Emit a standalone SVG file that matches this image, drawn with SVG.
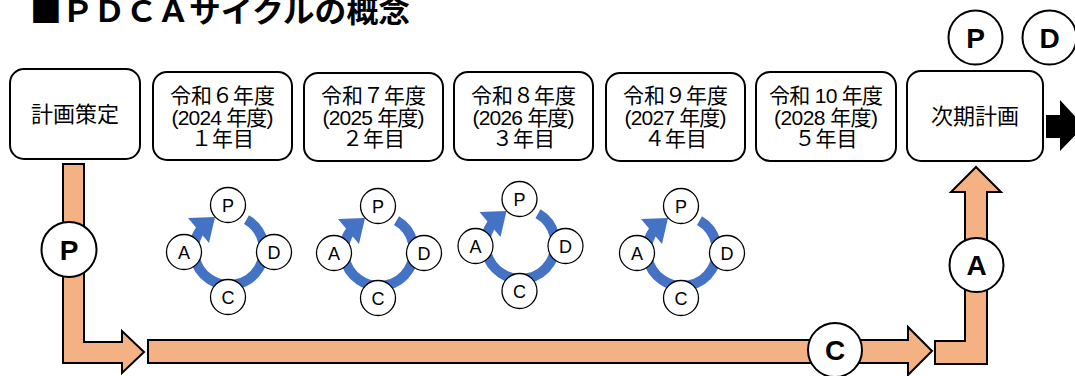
<svg xmlns="http://www.w3.org/2000/svg" width="1075" height="376" viewBox="0 0 1075 376">
<style>
.box{fill:#fff;stroke:#000;stroke-width:2}
.jp{font-family:"Liberation Sans","Noto Sans CJK JP",sans-serif;font-size:21px;fill:#000;text-anchor:middle}
.orange{fill:#F4B183;stroke:#000;stroke-width:2;stroke-linejoin:miter}
.big{fill:#fff;stroke:#000;stroke-width:2}
.bigt{font-family:"Liberation Sans",Arial,sans-serif;font-weight:bold;font-size:28px;text-anchor:middle;fill:#000}
.sm{fill:#fff;stroke:#000;stroke-width:1.3}
.smt{font-family:"Liberation Sans",Arial,sans-serif;font-size:18px;text-anchor:middle;fill:#000}
.ring{fill:none;stroke:#4472C4;stroke-width:10}
.head{fill:#4472C4}
</style>

<g id="title">
<text x="30" y="22" textLength="380" lengthAdjust="spacingAndGlyphs" style="font-family:'Noto Sans CJK JP',sans-serif;font-weight:bold;font-size:30px">■ＰＤＣＡサイクルの概念</text>
</g>

<g id="connectors">
<path class="orange" d="M63,164 H84 V342 H122 V331 L144,352 L122,373 V363 H63 Z"/>
<path class="orange" d="M148,340 H908 V327 L932,351 L908,375 V363 H148 Z"/>
<path class="orange" d="M935,341 H965 V192 H951 L976,167 L1001,192 H987 V364 H935 Z"/>
<path d="M1046,115 H1060 V100 L1084,126 L1060,151 V138 H1046 Z" fill="#000"/>
</g>

<g id="box-plan">
<rect class="box" x="10" y="69" width="130" height="90" rx="14"/>
<text class="jp" x="75" y="122" style="font-size:22px">計画策定</text>
</g>
<g id="box-r6">
<rect class="box" x="153" y="72" width="139" height="88" rx="14"/>
<text class="jp" x="222.5" y="103">令和６年度</text>
<text class="jp" x="222.5" y="125" textLength="102">(2024 年度)</text>
<text class="jp" x="222.5" y="146">１年目</text>
</g>
<g id="box-r7">
<rect class="box" x="304" y="73" width="139" height="88" rx="14"/>
<text class="jp" x="373.5" y="103">令和７年度</text>
<text class="jp" x="373.5" y="125" textLength="102">(2025 年度)</text>
<text class="jp" x="373.5" y="146">２年目</text>
</g>
<g id="box-r8">
<rect class="box" x="454" y="72" width="139" height="88" rx="14"/>
<text class="jp" x="523.5" y="103">令和８年度</text>
<text class="jp" x="523.5" y="125" textLength="102">(2026 年度)</text>
<text class="jp" x="523.5" y="146">３年目</text>
</g>
<g id="box-r9">
<rect class="box" x="606" y="73" width="139" height="88" rx="14"/>
<text class="jp" x="675.5" y="103">令和９年度</text>
<text class="jp" x="675.5" y="125" textLength="102">(2027 年度)</text>
<text class="jp" x="675.5" y="146">４年目</text>
</g>
<g id="box-r10">
<rect class="box" x="756" y="72" width="140" height="89" rx="14"/>
<text class="jp" x="826" y="103" textLength="114">令和 10 年度</text>
<text class="jp" x="826" y="125" textLength="104">(2028 年度)</text>
<text class="jp" x="826" y="146">５年目</text>
</g>
<g id="box-next">
<rect class="box" x="907" y="71" width="136" height="90" rx="14"/>
<text class="jp" x="975" y="124" style="font-size:22px">次期計画</text>
</g>

<g id="badge-P-left">
<circle class="big" cx="69" cy="249.5" r="27.5"/>
<text class="bigt" x="69" y="259.5">P</text>
</g>
<g id="badge-C">
<circle class="big" cx="835" cy="350" r="27"/>
<text class="bigt" x="835" y="360">C</text>
</g>
<g id="badge-A">
<circle class="big" cx="976.5" cy="265" r="27"/>
<text class="bigt" x="976.5" y="275">A</text>
</g>
<g id="badge-P-top">
<circle class="big" cx="975.5" cy="37.5" r="27"/>
<text class="bigt" x="975.5" y="47.5">P</text>
</g>
<g id="badge-D-top">
<circle class="big" cx="1049.5" cy="37.5" r="27"/>
<text class="bigt" x="1049.5" y="47.5">D</text>
</g>

<g id="cycle-1" transform="translate(229,250)">
<path class="ring" d="M17.5,-30.3 A35,35 0 1 1 -28.3,-20.6"/>
<polygon class="head" points="-41,-32 -14,-33 -20,-7"/>
<circle class="sm" cx="-1" cy="-45" r="17.5"/><text class="smt" x="-1" y="-38.5">P</text>
<circle class="sm" cx="45" cy="2" r="17.5"/><text class="smt" x="45" y="8.5">D</text>
<circle class="sm" cx="-1" cy="47" r="17.5"/><text class="smt" x="-1" y="53.5">C</text>
<circle class="sm" cx="-45" cy="2" r="17.5"/><text class="smt" x="-45" y="8.5">A</text>
</g>
<g id="cycle-2" transform="translate(379,251)">
<path class="ring" d="M17.5,-30.3 A35,35 0 1 1 -28.3,-20.6"/>
<polygon class="head" points="-41,-32 -14,-33 -20,-7"/>
<circle class="sm" cx="-1" cy="-45" r="17.5"/><text class="smt" x="-1" y="-38.5">P</text>
<circle class="sm" cx="45" cy="2" r="17.5"/><text class="smt" x="45" y="8.5">D</text>
<circle class="sm" cx="-1" cy="47" r="17.5"/><text class="smt" x="-1" y="53.5">C</text>
<circle class="sm" cx="-45" cy="2" r="17.5"/><text class="smt" x="-45" y="8.5">A</text>
</g>
<g id="cycle-3" transform="translate(520.5,244)">
<path class="ring" d="M17.5,-30.3 A35,35 0 1 1 -28.3,-20.6"/>
<polygon class="head" points="-41,-32 -14,-33 -20,-7"/>
<circle class="sm" cx="-1" cy="-45" r="17.5"/><text class="smt" x="-1" y="-38.5">P</text>
<circle class="sm" cx="45" cy="2" r="17.5"/><text class="smt" x="45" y="8.5">D</text>
<circle class="sm" cx="-1" cy="47" r="17.5"/><text class="smt" x="-1" y="53.5">C</text>
<circle class="sm" cx="-45" cy="2" r="17.5"/><text class="smt" x="-45" y="8.5">A</text>
</g>
<g id="cycle-4" transform="translate(682,251)">
<path class="ring" d="M17.5,-30.3 A35,35 0 1 1 -28.3,-20.6"/>
<polygon class="head" points="-41,-32 -14,-33 -20,-7"/>
<circle class="sm" cx="-1" cy="-45" r="17.5"/><text class="smt" x="-1" y="-38.5">P</text>
<circle class="sm" cx="45" cy="2" r="17.5"/><text class="smt" x="45" y="8.5">D</text>
<circle class="sm" cx="-1" cy="47" r="17.5"/><text class="smt" x="-1" y="53.5">C</text>
<circle class="sm" cx="-45" cy="2" r="17.5"/><text class="smt" x="-45" y="8.5">A</text>
</g>
</svg>
